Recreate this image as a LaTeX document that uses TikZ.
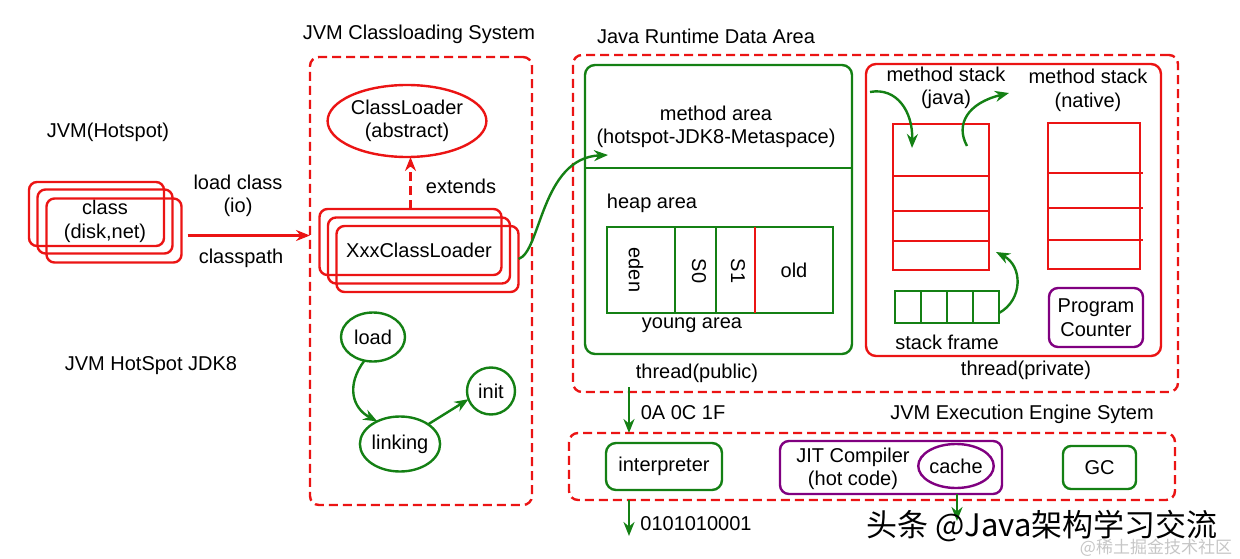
\documentclass[tikz,border=0pt]{standalone}
\usepackage{fontspec}
\setmainfont{Liberation Sans}
\newfontfamily\cjkfont{Noto Sans CJK SC}
\usetikzlibrary{shapes.geometric,arrows.meta}
\definecolor{jred}{RGB}{235,20,20}
\definecolor{jgreen}{RGB}{20,128,20}
\definecolor{jpurple}{RGB}{128,0,128}
\begin{document}
\begin{tikzpicture}[x=1pt,y=-1pt,line width=2.4pt,
  every node/.style={font=\fontsize{20}{23.5}\selectfont,inner sep=0pt,outer sep=0pt,align=center},
  dashbox/.style={draw=jred,dash pattern=on 9pt off 5pt,rounded corners=9pt},
  rbox/.style={draw=jred,rounded corners=8pt},
  gbox/.style={draw=jgreen,rounded corners=10pt},
  pbox/.style={draw=jpurple,rounded corners=9pt},
  rell/.style={draw=jred,ellipse},
  gell/.style={draw=jgreen,ellipse},
  garrow/.style={draw=jgreen,-{Stealth[length=14pt,width=11pt]}},
  rarrow/.style={draw=jred,-{Stealth[length=14pt,width=11pt]}}]
\useasboundingbox (0,0) rectangle (1240,559);
% left titles
\node (tHot) at (108,132) {JVM(Hotspot)};
\node (tJdk) at (151,366) {JVM HotSpot JDK8};
% class stack
\node[rbox,minimum width=135pt,minimum height=64pt] (cls1) at (96.5,214) {};
\node[rbox,minimum width=135pt,minimum height=64pt] (cls2) at (105,221.5) {class\\(disk,net)};
\node[rbox,minimum width=135pt,minimum height=64pt] (cls3) at (114,230.5) {};
% classloading system
\node (tCls) at (419,34) {JVM Classloading System};
\node[dashbox,minimum width=222pt,minimum height=448pt] (clsys) at (421,281) {};
\coordinate (la) at ([shift={(6pt,-5pt)}]cls3.east);
\draw[rarrow] (la) -- (la -| clsys.west);
\node (lload) at (238,196) {load class\\(io)};
\node (lcp) at (241,258) {classpath};
\node[rell,minimum width=150pt,minimum height=72pt] (cl) at (407,121) {ClassLoader\\(abstract)};
\node[rbox,minimum width=182pt,minimum height=66pt] (xcl1) at (410.5,242) {};
\node[rbox,minimum width=182pt,minimum height=66pt] (xcl2) at (419,250.5) {XxxClassLoader};
\node[rbox,minimum width=182pt,minimum height=66pt] (xcl3) at (427.5,259) {};
\draw[rarrow,dash pattern=on 9pt off 5pt] (xcl1.north) -- (xcl1.north |- cl.south);
\node (lext) at (461,186) {extends};
\node[gell,minimum width=64pt,minimum height=49pt] (load) at (373,337) {load};
\node[gell,minimum width=77pt,minimum height=55pt] (linking) at (400,444) {linking};
\node[gell,minimum width=48pt,minimum height=47pt] (init) at (491,391) {init};
\draw[garrow] (load.250) .. controls (346,385) and (352,408) .. (linking.135);
\draw[garrow] (linking.35) -- (init.200);
% runtime data area
\node (tRda) at (706,36) {Java Runtime Data Area};
\node[dashbox,minimum width=605pt,minimum height=337pt] (rda) at (875.5,223.5) {};
\node[gbox,minimum width=267pt,minimum height=289pt] (ga) at (718.5,209.5) {};
\coordinate (mdiv) at (0,168);
\draw[jgreen] (ga.west |- mdiv) -- (ga.east |- mdiv);
\coordinate (maIn) at (608,155);
\draw[garrow] (xcl3.east) .. controls (541,252) and (541,158) .. (maIn);
\node (ma) at (716,127) {method area\\(hotspot-JDK8-Metaspace)};
\node (lheap) at (652,203) {heap area};
\node[draw=jgreen,minimum width=226pt,minimum height=86pt] (hp) at (720,270) {};
\coordinate (d1) at (675,0);
\coordinate (d2) at (716,0);
\coordinate (d3) at (755,0);
\draw[jgreen] (hp.north -| d1) -- (hp.south -| d1);
\draw[jgreen] (hp.north -| d2) -- (hp.south -| d2);
\draw[jred] (hp.north -| d3) -- (hp.south -| d3);
\node[rotate=-90] (leden) at (636,270) {eden};
\node[rotate=-90] (ls0) at (699,271) {S0};
\node[rotate=-90] (ls1) at (738,271) {S1};
\node (lold) at (794,270) {old};
\node (lyoung) at (692,325) {young area};
\node (lpub) at (697,373) {thread(public)};
% private
\node[rbox,rounded corners=10pt,minimum width=295pt,minimum height=292pt] (pv) at (1013.5,210) {};
\node (msj) at (946,88) {method stack\\(java)};
\node (msn) at (1088,90.5) {method stack\\(native)};
\node[draw=jred,minimum width=96pt,minimum height=146pt] (js) at (941,197) {};
\coordinate (ja) at (0,176);
\coordinate (jb) at (0,211);
\coordinate (jc) at (0,241);
\draw[jred] (js.west |- ja) -- (js.east |- ja);
\draw[jred] (js.west |- jb) -- (js.east |- jb);
\draw[jred] (js.west |- jc) -- (js.east |- jc);
\node[draw=jred,minimum width=92pt,minimum height=146pt] (ns) at (1094,196) {};
\coordinate (na) at (0,173);
\coordinate (nb) at (0,208);
\coordinate (nc) at (0,240);
\draw[jred] (ns.west |- na) -- ([xshift=3pt]ns.east |- na);
\draw[jred] (ns.west |- nb) -- ([xshift=3pt]ns.east |- nb);
\draw[jred] (ns.west |- nc) -- ([xshift=3pt]ns.east |- nc);
\node[draw=jgreen,minimum width=26pt,minimum height=32pt] (sf1) at (908,307) {};
\node[draw=jgreen,minimum width=26pt,minimum height=32pt] (sf2) at (934,307) {};
\node[draw=jgreen,minimum width=26pt,minimum height=32pt] (sf3) at (960,307) {};
\node[draw=jgreen,minimum width=26pt,minimum height=32pt] (sf4) at (986,307) {};
\node (lsf) at (947,342) {stack frame};
\node[pbox,minimum width=94pt,minimum height=59pt] (pc) at (1096,317.5) {Program\\Counter};
\node (lpriv) at (1026,370) {thread(private)};
\coordinate (j1) at (870,92);
\coordinate (j1e) at (912,148);
\draw[garrow] (j1) .. controls (897,87) and (913,112) .. (j1e);
\coordinate (j2) at (967,146);
\coordinate (j2e) at (1009,93);
\draw[garrow] (j2) .. controls (955,124) and (968,103) .. (j2e);
\coordinate (j3e) at (996,252);
\draw[garrow] ([yshift=-6pt]sf4.east) .. controls (1023,300) and (1023,266) .. (j3e);
% execution engine
\node (tEe) at (1022,414) {JVM Execution Engine Sytem};
\node[dashbox,minimum width=606pt,minimum height=67pt] (eee) at (872,466.5) {};
\node[gbox,minimum width=116pt,minimum height=47pt] (interp) at (664,466.5) {interpreter};
\node[pbox,minimum width=222pt,minimum height=53pt] (jit) at (891,467.5) {};
\node (jitt) at (853,469) {JIT Compiler\\(hot code)};
\node[draw=jpurple,ellipse,minimum width=71pt,minimum height=44pt] (cache) at (956,466) {cache};
\node[gbox,rounded corners=8pt,minimum width=73pt,minimum height=43pt] (gc) at (1099.5,467.5) {GC};
\coordinate (tp) at (629,387);
\draw[garrow] (tp) -- (tp |- eee.north);
\node (lhex) at (683,413) {0A 0C 1F};
\coordinate (bin) at (629,536);
\draw[garrow] (bin |- eee.south) -- (bin);
\node (lbin) at (696,524) {0101010001};
\coordinate (cc) at (957,521);
\draw[garrow] (cc |- jit.south) -- (cc);
% watermark
\node[font=\cjkfont\fontsize{31}{31}\selectfont] (wm) at (1042,526) {头条 @Java架构学习交流};
\node[font=\cjkfont\fontsize{17}{17}\selectfont,text=gray!45] (wm2) at (1156,548) {@稀土掘金技术社区};
\end{tikzpicture}
\end{document}
